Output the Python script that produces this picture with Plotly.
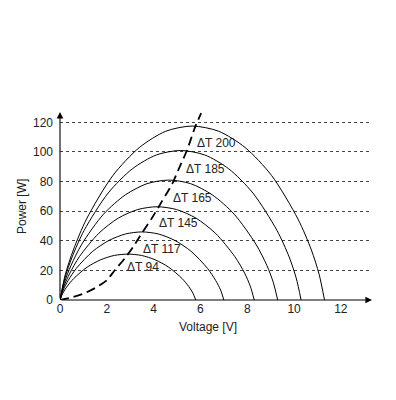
import plotly.graph_objects as go

# P-V curves (Voltage [V], Power [W])
v_94 = [0, 0.12, 0.29, 0.58, 1.16, 1.74, 2.32, 2.9, 3.48, 4.06, 4.64, 5.22, 5.51, 5.68, 5.8]
p_94 = [0, 4.6, 8.9, 14.4, 22.2, 27.2, 30.1, 31, 30.1, 27.2, 22.2, 14.4, 8.9, 4.6, 0]

v_117 = [0, 0.14, 0.35, 0.7, 1.4, 2.1, 2.8, 3.5, 4.2, 4.9, 5.6, 6.3, 6.65, 6.86, 7.0]
p_117 = [0, 6.8, 13.2, 21.4, 32.9, 40.3, 44.6, 46, 44.6, 40.3, 32.9, 21.4, 13.2, 6.8, 0]

v_145 = [0, 0.17, 0.42, 0.83, 1.66, 2.49, 3.32, 4.15, 4.98, 5.81, 6.64, 7.47, 7.89, 8.13, 8.3]
p_145 = [0, 9.3, 18.1, 29.3, 45.1, 55.3, 61.1, 63, 61.1, 55.3, 45.1, 29.3, 18.1, 9.3, 0]

v_165 = [0, 0.19, 0.47, 0.93, 1.86, 2.79, 3.72, 4.65, 5.58, 6.51, 7.44, 8.37, 8.84, 9.11, 9.3]
p_165 = [0, 12.0, 23.3, 37.7, 58.0, 71.0, 78.6, 81, 78.6, 71.0, 58.0, 37.7, 23.3, 12.0, 0]

v_185 = [0, 0.21, 0.52, 1.03, 2.06, 3.09, 4.12, 5.15, 6.18, 7.21, 8.24, 9.27, 9.79, 10.09, 10.3]
p_185 = [0, 14.9, 29.1, 47.0, 72.3, 88.6, 98.0, 101, 98.0, 88.6, 72.3, 47.0, 29.1, 14.9, 0]

v_200 = [0, 0.23, 0.57, 1.13, 2.26, 3.39, 4.52, 5.65, 6.78, 7.91, 9.04, 10.17, 10.74, 11.07, 11.3]
p_200 = [0, 17.4, 33.8, 54.6, 84.1, 103.0, 114.0, 117.5, 114.0, 103.0, 84.1, 54.6, 33.8, 17.4, 0]

# maximum power point locus (dashed)
v_mpp = [0, 0.56, 1.07, 1.58, 2.01, 2.35, 2.78, 3.12, 3.5, 3.93, 4.36, 4.79, 5.09, 5.43, 5.77, 6.03]
p_mpp = [0, 2.0, 4.7, 8.8, 13.5, 20.3, 28.4, 35.8, 45.2, 55.4, 66.8, 78.3, 89.1, 101.3, 116.8, 126.2]

labels = ["ΔT 94", "ΔT 117", "ΔT 145", "ΔT 165", "ΔT 185", "ΔT 200"]
label_x = [2.78, 3.46, 4.13, 4.74, 5.3, 5.77]
label_y = [22.5, 34.2, 51.8, 68.7, 88.5, 105.8]

x_ticks = [0, 2, 4, 6, 8, 10, 12]
y_ticks = [0, 20, 40, 60, 80, 100, 120]

FONT = "Liberation Sans, Arial, sans-serif"
TXT = "#222222"

# page body has an 8px margin; compensate so the plot lands where the reference has it
OFF = 8
W, H = 396, 400
ml, mt = 60 - OFF, 112 - OFF
pw, ph = 312, 188
mr, mb = W - ml - pw, H - mt - ph

def paper_x(px):
    return (px - OFF - ml) / pw

def paper_y(py):
    return (mt + ph - (py - OFF)) / ph

fig = go.Figure()
for vs, ps in [(v_94, p_94), (v_117, p_117), (v_145, p_145),
               (v_165, p_165), (v_185, p_185), (v_200, p_200)]:
    fig.add_trace(go.Scatter(x=vs, y=ps, mode="lines",
                             line=dict(color="black", width=1, shape="spline", smoothing=0.8),
                             hoverinfo="skip", showlegend=False))
fig.add_trace(go.Scatter(x=v_mpp, y=p_mpp, mode="lines",
                         line=dict(color="black", width=1.8, dash="9px,5px", shape="spline", smoothing=0.6),
                         hoverinfo="skip", showlegend=False))

annotations = []
for t, x, y in zip(labels, label_x, label_y):
    annotations.append(dict(x=x, y=y, xref="x", yref="y", text=t, showarrow=False,
                            xanchor="left", yanchor="middle",
                            font=dict(family=FONT, size=12, color=TXT)))
# axes with arrowheads
annotations.append(dict(x=13.33, y=0, ax=0, ay=0, xref="x", yref="y", axref="x", ayref="y",
                        text="", showarrow=True, arrowhead=2, arrowsize=1.2, arrowwidth=1.1,
                        arrowcolor="black", standoff=0, startstandoff=0))
annotations.append(dict(x=0, y=127, ax=0, ay=0, xref="x", yref="y", axref="x", ayref="y",
                        text="", showarrow=True, arrowhead=2, arrowsize=1.2, arrowwidth=1.1,
                        arrowcolor="black", standoff=0, startstandoff=0))
annotations.append(dict(x=paper_x(208), y=paper_y(327), xref="paper", yref="paper",
                        xanchor="center", yanchor="middle", text="Voltage [V]", showarrow=False,
                        font=dict(family=FONT, size=12, color=TXT)))
annotations.append(dict(x=paper_x(22), y=paper_y(207), xref="paper", yref="paper",
                        xanchor="center", yanchor="middle", text="Power [W]", showarrow=False,
                        textangle=-90, font=dict(family=FONT, size=12, color=TXT)))

fig.update_layout(
    width=W, height=H,
    margin=dict(l=ml, r=mr, t=mt, b=mb, pad=0),
    paper_bgcolor="white", plot_bgcolor="white",
    font=dict(family=FONT, size=12, color=TXT),
    annotations=annotations,
    xaxis=dict(range=[0, 13.33], tickvals=x_ticks, ticktext=[str(v) for v in x_ticks],
               showgrid=False, zeroline=False, showline=False, ticks="",
               ticklabelstandoff=0, tickfont=dict(family=FONT, size=12, color=TXT)),
    yaxis=dict(range=[0, 127], tickvals=y_ticks, ticktext=[str(v) for v in y_ticks],
               showgrid=True, gridcolor="#444444", griddash="dot", gridwidth=1,
               zeroline=False, showline=False, ticks="",
               ticklabelstandoff=6, tickfont=dict(family=FONT, size=12, color=TXT)),
)

fig.write_html("out.html")
